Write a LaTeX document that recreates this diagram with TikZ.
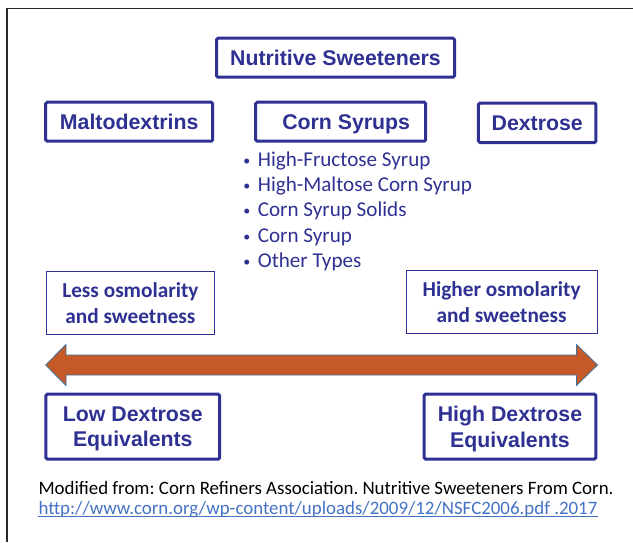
\documentclass[tikz,border=0pt]{standalone}
\usepackage{fontspec}
\setmainfont{Carlito}
\newfontfamily\headfont{Liberation Sans}
\usepackage{tikz}
\usetikzlibrary{positioning}
\definecolor{boxnavy}{RGB}{46,49,146}
\definecolor{arroworange}{RGB}{197,90,40}
\definecolor{arrowedge}{RGB}{65,113,156}
\definecolor{linkblue}{RGB}{68,114,196}
\definecolor{framegray}{RGB}{40,40,40}
\frenchspacing

\begin{document}
\begin{tikzpicture}[x=1pt,y=-1pt,
  headbox/.style={draw=boxnavy,line width=3pt,rounded corners=1.5pt,text=boxnavy,
    font=\headfont\bfseries\fontsize{21.3}{25.5}\selectfont,inner sep=0pt,align=center,
    text depth=0pt},
  notebox/.style={draw=boxnavy,line width=1pt,text=boxnavy,
    font=\bfseries\fontsize{21.3}{26}\selectfont,inner sep=0pt,align=center},
  itemtext/.style={anchor=base west,inner sep=0pt,text=boxnavy,font=\fontsize{21.1}{25}\selectfont},
  reftext/.style={anchor=base west,inner sep=0pt,font=\fontsize{18.9}{20}\selectfont}]
  \useasboundingbox (0,0) rectangle (633,542);

  % Frame
  \draw[framegray,line width=1.5pt] (7,542) -- (7,8.5) -- (633,8.5);

  % Top level
  \node[headbox,minimum width=238,minimum height=39] (sweet) at (335.5,57.7) {Nutritive Sweeteners};

  % Three groups
  \node[headbox,minimum width=167,minimum height=39] (malto) at (129.2,121.7) {Maltodextrins};
  \node[headbox,minimum width=170,minimum height=39] (corn) at (340.7,121.7) {\hspace*{11pt}Corn Syrups};
  \node[headbox,minimum width=117.5,minimum height=39.5] (dex) at (537.2,122.8) {Dextrose};

  % Corn syrup types
  \foreach \txt [count=\i] in {High-Fructose Syrup, High-Maltose Corn Syrup,
      Corn Syrup Solids, Corn Syrup, Other Types}
    \node[itemtext] (item\i) at (243.2,{140.6+25.4*\i})
      {\raisebox{1pt}{\fontsize{14}{14}\selectfont\textbullet}\hspace{7.5pt}\txt};

  % Osmolarity notes
  \node[notebox,minimum width=168.6,minimum height=63.3] (less) at (130.4,302.8)
    {Less osmolarity\\and sweetness};
  \node[notebox,minimum width=190.8,minimum height=63] (more) at (501.6,302)
    {Higher osmolarity\\and sweetness};

  % Double arrow
  \filldraw[fill=arroworange,draw=arrowedge,line width=0.8pt]
    (45.6,365) -- (66,344.5) -- (66,355) -- (576.5,355) -- (576.5,344.5)
    -- (597.5,365) -- (576.5,385.5) -- (576.5,375) -- (66,375) -- (66,385.5) -- cycle;

  % Dextrose equivalents
  \node[headbox,minimum width=173.8,minimum height=65] (lowde) at (132.8,426.7)
    {Low Dextrose\\Equivalents};
  \node[headbox,minimum width=171.7,minimum height=65] (highde) at (510,426.7)
    {High Dextrose\\Equivalents};

  % Source
  \node[reftext] (credit) at (38.3,494)
    {Modified from: Corn Refiners Association. Nutritive Sweeteners From Corn.};
  \node[reftext,text=linkblue] (link) at (38.3,514)
    {http://www.corn.org/wp-content/uploads/2009/12/NSFC2006.pdf .2017};
  \draw[linkblue,line width=0.9pt] ([yshift=-2.7pt]link.base west) -- ([yshift=-2.7pt]link.base east);
\end{tikzpicture}
\end{document}
